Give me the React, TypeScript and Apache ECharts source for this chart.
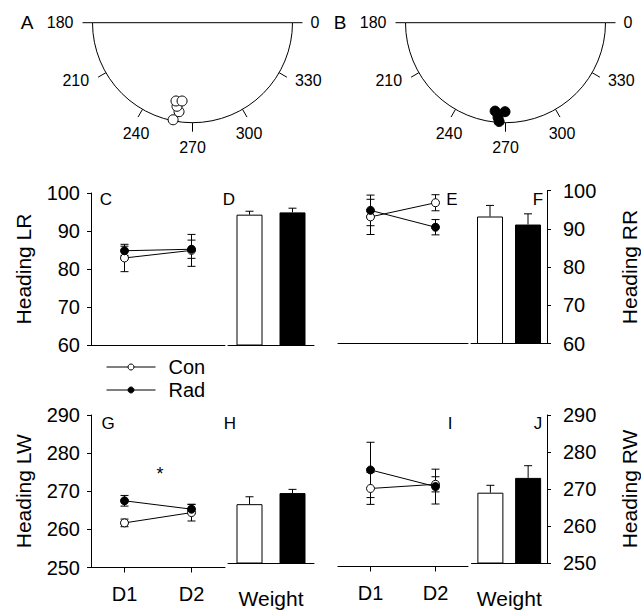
import React, { useEffect, useRef } from "react";
import * as echarts from "echarts";

const FONT = '"Liberation Sans", Arial, Helvetica, sans-serif';
const BLACK = "#000";

// ---------- data ----------
const days = ["D1", "D2"];
const groups = ["Con", "Rad"];

// polar panels A and B: tick angles and individual headings [radius fraction, angle deg]
const polarTickAngles = [180, 210, 240, 270, 300, 330, 0];
const conHeadingsA = [
  [0.99, 258.7],
  [0.9, 261.4],
  [0.85, 259.5],
  [0.8, 258.1],
  [0.79, 262.4],
];
const radHeadingsB = [
  [0.99, 266.3],
  [0.95, 265.5],
  [0.89, 263.3],
  [0.89, 269.7],
];

const headingTicksTop = [60, 70, 80, 90, 100];
const headingTicksBottom = [250, 260, 270, 280, 290];

// C: Heading LR by day
const lrConMean = [82.9, 84.9];
const lrConSem = [3.6, 4.2];
const lrRadMean = [84.8, 85.2];
const lrRadSem = [1.2, 2.4];
// D: Heading LR, weight
const lrWeightMean = [94.3, 94.9];
const lrWeightSem = [0.9, 1.1];
// E: Heading RR by day
const rrConMean = [93.1, 96.8];
const rrConSem = [4.6, 2.1];
const rrRadMean = [94.8, 90.4];
const rrRadSem = [4.0, 2.0];
// F: Heading RR, weight
const rrWeightMean = [93.2, 91.1];
const rrWeightSem = [2.9, 2.8];
// G: Heading LW by day
const lwConMean = [261.7, 264.4];
const lwConSem = [1.0, 2.2];
const lwRadMean = [267.5, 265.3];
const lwRadSem = [1.4, 1.2];
// H: Heading LW, weight
const lwWeightMean = [265.9, 268.9];
const lwWeightSem = [2.0, 1.0];
// I: Heading RW by day
const rwConMean = [270.6, 271.7];
const rwConSem = [4.2, 2.0];
const rwRadMean = [275.5, 271.1];
const rwRadSem = [7.3, 4.6];
// J: Heading RW, weight
const rwWeightMean = [269.0, 273.0];
const rwWeightSem = [2.0, 3.3];

// ---------- helpers ----------
const axisLineStyle = { show: true, onZero: false, lineStyle: { color: BLACK, width: 1 } };
const labelText = { color: BLACK, fontSize: 20, fontFamily: FONT };

function valueAxis(gridIndex: number, ticks: number[], visible: boolean, position?: string, name?: string) {
  const base: any = {
    type: "value",
    gridIndex,
    min: ticks[0],
    max: ticks[ticks.length - 1],
    interval: ticks[1] - ticks[0],
    splitLine: { show: false },
  };
  if (!visible) return { ...base, show: false };
  const left = position === "left";
  return {
    ...base,
    position,
    axisLine: axisLineStyle,
    axisTick: { show: true, length: 4, lineStyle: { color: BLACK, width: 1 } },
    axisLabel: { ...labelText, margin: left ? 11 : 16 },
    name,
    nameLocation: "middle",
    nameRotate: 90,
    nameGap: left ? 57 : 72,
    nameTextStyle: { color: BLACK, fontSize: 21, fontFamily: FONT },
  };
}

function dayAxis(gridIndex: number, showLabels: boolean) {
  return {
    type: "category",
    gridIndex,
    data: days,
    boundaryGap: true,
    axisLine: axisLineStyle,
    axisTick: showLabels
      ? { show: true, alignWithLabel: true, length: 5, lineStyle: { color: BLACK } }
      : { show: false },
    axisLabel: showLabels ? { ...labelText, margin: 16 } : { show: false },
    splitLine: { show: false },
  };
}

function weightAxis(gridIndex: number, showName: boolean) {
  return {
    type: "category",
    gridIndex,
    data: groups,
    boundaryGap: true,
    axisLine: axisLineStyle,
    axisTick: { show: false },
    axisLabel: { show: false },
    splitLine: { show: false },
    name: showName ? "Weight" : "",
    nameLocation: "middle",
    nameGap: 25,
    nameTextStyle: { color: BLACK, fontSize: 21, fontFamily: FONT },
  };
}

function lineSeries(name: string, idx: number, means: number[], filled: boolean) {
  return {
    type: "line",
    name,
    xAxisIndex: idx,
    yAxisIndex: idx,
    data: means,
    symbol: "circle",
    symbolSize: 8,
    showSymbol: true,
    itemStyle: { color: filled ? BLACK : "#fff", borderColor: BLACK, borderWidth: 1, opacity: 1 },
    lineStyle: { color: BLACK, width: 1 },
    z: filled ? 4 : 3,
    silent: true,
  };
}

function errorSeries(name: string, idx: number, means: number[], sems: number[], upOnly: boolean, z: number) {
  return {
    type: "custom",
    name,
    xAxisIndex: idx,
    yAxisIndex: idx,
    data: means.map((m, i) => [i, m, sems[i]]),
    z,
    silent: true,
    renderItem: (_params: any, api: any) => {
      const x = api.value(0);
      const m = api.value(1);
      const e = api.value(2);
      const top = api.coord([x, m + e]);
      const bot = api.coord([x, upOnly ? m : m - e]);
      const hw = 4;
      const st = { stroke: BLACK, lineWidth: 1 };
      const children: any[] = [
        { type: "line", shape: { x1: top[0], y1: top[1], x2: bot[0], y2: bot[1] }, style: st },
        { type: "line", shape: { x1: top[0] - hw, y1: top[1], x2: top[0] + hw, y2: top[1] }, style: st },
      ];
      if (!upOnly) {
        children.push({ type: "line", shape: { x1: bot[0] - hw, y1: bot[1], x2: bot[0] + hw, y2: bot[1] }, style: st });
      }
      return { type: "group", children };
    },
  };
}

function barSeries(name: string, idx: number, values: number[], which: number) {
  return {
    type: "bar",
    name,
    xAxisIndex: idx,
    yAxisIndex: idx,
    barWidth: 26,
    barGap: "-100%",
    data: which === 0 ? [values[0], "-"] : ["-", values[1]],
    itemStyle: { color: which === 0 ? "#fff" : BLACK, borderColor: BLACK, borderWidth: 1 },
    z: 2,
    silent: true,
  };
}

function polarFrameSeries(polarIndex: number) {
  return {
    type: "custom",
    name: "frame" + polarIndex,
    coordinateSystem: "polar",
    polarIndex,
    data: polarTickAngles.map((a) => [1, a]),
    silent: true,
    z: 1,
    renderItem: (params: any, api: any) => {
      const ang = api.value(1);
      const p = api.coord([1, ang]);
      const cs = params.coordSys;
      const ux = (p[0] - cs.cx) / cs.r;
      const uy = (p[1] - cs.cy) / cs.r;
      const tl = Math.abs(uy) < 0.1 ? 10 : 9;
      const q = [p[0] + ux * tl, p[1] + uy * tl];
      const st = { stroke: BLACK, lineWidth: 1 };
      const children: any[] = [];
      if (params.dataIndex === 0) {
        children.push({
          type: "arc",
          shape: { cx: cs.cx, cy: cs.cy, r: cs.r, startAngle: 0, endAngle: Math.PI, clockwise: true },
          style: { stroke: BLACK, fill: "none", lineWidth: 1 },
        });
        children.push({ type: "line", shape: { x1: cs.cx - cs.r, y1: cs.cy, x2: cs.cx + cs.r, y2: cs.cy }, style: st });
      }
      children.push({ type: "line", shape: { x1: p[0], y1: p[1], x2: q[0], y2: q[1] }, style: st });
      let tx: number, ty: number, align: string;
      if (Math.abs(uy) < 0.7) {
        align = ux > 0 ? "left" : "right";
        tx = q[0] + (ux > 0 ? 8 : -9);
        ty = q[1] + uy * 6;
      } else {
        align = "center";
        tx = q[0] + ux * 4;
        ty = q[1] + 16;
      }
      children.push({
        type: "text",
        style: {
          text: String(ang),
          x: tx,
          y: ty,
          align,
          verticalAlign: "middle",
          fontSize: 16,
          fontFamily: FONT,
          fill: BLACK,
        },
      });
      return { type: "group", children };
    },
  };
}

function letter(text: string, x: number, y: number, size = 17) {
  return {
    type: "text",
    x,
    y,
    style: { text, fontSize: size, fontFamily: FONT, fill: BLACK, align: "center", verticalAlign: "middle" },
    silent: true,
  };
}

function buildOption() {
  const grids = [
    { left: 91, top: 193, width: 134, height: 152 }, // C
    { left: 228, top: 193, width: 86, height: 152 }, // D
    { left: 338, top: 190.5, width: 130, height: 153 }, // E
    { left: 471, top: 190.5, width: 86, height: 153 }, // F
    { left: 91, top: 415, width: 134, height: 152.5 }, // G
    { left: 228, top: 415, width: 86, height: 152.5 }, // H
    { left: 338, top: 415, width: 130, height: 151.5 }, // I
    { left: 471.5, top: 415, width: 86.5, height: 151.5 }, // J
  ];

  const hiddenAngle = (polarIndex: number) => ({
    polarIndex,
    type: "value",
    min: 0,
    max: 360,
    startAngle: 0,
    clockwise: false,
    axisLine: { show: false },
    axisTick: { show: false },
    axisLabel: { show: false },
    splitLine: { show: false },
  });
  const hiddenRadius = (polarIndex: number) => ({
    polarIndex,
    type: "value",
    min: 0,
    max: 1,
    axisLine: { show: false },
    axisTick: { show: false },
    axisLabel: { show: false },
    splitLine: { show: false },
  });

  return {
    animation: false,
    backgroundColor: "#fff",
    textStyle: { fontFamily: FONT },
    grid: grids,
    polar: [
      { center: [192.5, 22.7], radius: 100 },
      { center: [505.5, 22.7], radius: 100 },
    ],
    angleAxis: [hiddenAngle(0), hiddenAngle(1)],
    radiusAxis: [hiddenRadius(0), hiddenRadius(1)],
    xAxis: [
      dayAxis(0, false),
      weightAxis(1, false),
      dayAxis(2, false),
      weightAxis(3, false),
      dayAxis(4, true),
      weightAxis(5, true),
      dayAxis(6, true),
      weightAxis(7, true),
    ],
    yAxis: [
      valueAxis(0, headingTicksTop, true, "left", "Heading LR"),
      valueAxis(1, headingTicksTop, false),
      valueAxis(2, headingTicksTop, false),
      valueAxis(3, headingTicksTop, true, "right", "Heading RR"),
      valueAxis(4, headingTicksBottom, true, "left", "Heading LW"),
      valueAxis(5, headingTicksBottom, false),
      valueAxis(6, headingTicksBottom, false),
      valueAxis(7, headingTicksBottom, true, "right", "Heading RW"),
    ],
    legend: {
      data: [
        { name: "Con", itemStyle: { color: "#fff", borderColor: BLACK, borderWidth: 1 } },
        { name: "Rad", itemStyle: { color: BLACK, borderColor: BLACK, borderWidth: 1 } },
      ],
      orient: "vertical",
      left: 101,
      top: 352,
      itemWidth: 49,
      itemHeight: 7.5,
      itemGap: 3,
      selectedMode: false,
      lineStyle: { color: BLACK, width: 1 },
      textStyle: { color: BLACK, fontSize: 20, fontFamily: FONT, padding: [0, 0, 0, 8] },
    },
    series: [
      lineSeries("Con", 0, lrConMean, false),
      lineSeries("Rad", 0, lrRadMean, true),
      errorSeries("Con SEM C", 0, lrConMean, lrConSem, false, 2),
      errorSeries("Rad SEM C", 0, lrRadMean, lrRadSem, false, 2),

      barSeries("Con", 1, lrWeightMean, 0),
      barSeries("Rad", 1, lrWeightMean, 1),
      errorSeries("SEM D", 1, lrWeightMean, lrWeightSem, true, 3),

      lineSeries("Con", 2, rrConMean, false),
      lineSeries("Rad", 2, rrRadMean, true),
      errorSeries("Con SEM E", 2, rrConMean, rrConSem, false, 2),
      errorSeries("Rad SEM E", 2, rrRadMean, rrRadSem, false, 2),

      barSeries("Con", 3, rrWeightMean, 0),
      barSeries("Rad", 3, rrWeightMean, 1),
      errorSeries("SEM F", 3, rrWeightMean, rrWeightSem, true, 3),

      lineSeries("Con", 4, lwConMean, false),
      lineSeries("Rad", 4, lwRadMean, true),
      errorSeries("Con SEM G", 4, lwConMean, lwConSem, false, 2),
      errorSeries("Rad SEM G", 4, lwRadMean, lwRadSem, false, 2),

      barSeries("Con", 5, lwWeightMean, 0),
      barSeries("Rad", 5, lwWeightMean, 1),
      errorSeries("SEM H", 5, lwWeightMean, lwWeightSem, true, 3),

      lineSeries("Con", 6, rwConMean, false),
      lineSeries("Rad", 6, rwRadMean, true),
      errorSeries("Con SEM I", 6, rwConMean, rwConSem, false, 2),
      errorSeries("Rad SEM I", 6, rwRadMean, rwRadSem, false, 2),

      barSeries("Con", 7, rwWeightMean, 0),
      barSeries("Rad", 7, rwWeightMean, 1),
      errorSeries("SEM J", 7, rwWeightMean, rwWeightSem, true, 3),

      polarFrameSeries(0),
      polarFrameSeries(1),
      {
        type: "scatter",
        name: "Con headings",
        coordinateSystem: "polar",
        polarIndex: 0,
        data: conHeadingsA,
        symbolSize: 10,
        itemStyle: { color: "#fff", borderColor: BLACK, borderWidth: 1, opacity: 1 },
        z: 5,
        silent: true,
      },
      {
        type: "scatter",
        name: "Rad headings",
        coordinateSystem: "polar",
        polarIndex: 1,
        data: radHeadingsB,
        symbolSize: 10,
        itemStyle: { color: BLACK, borderColor: BLACK, borderWidth: 1, opacity: 1 },
        z: 5,
        silent: true,
      },
    ],
    graphic: [
      letter("A", 27, 22, 19),
      letter("B", 340, 22, 19),
      letter("C", 106, 199),
      letter("D", 229, 199),
      letter("E", 452, 199),
      letter("F", 538, 199),
      letter("G", 108, 423),
      letter("H", 230, 423),
      letter("I", 450, 423),
      letter("J", 538, 423),
      letter("*", 160, 474, 18),
    ],
  };
}

export default function App() {
  const ref = useRef<HTMLDivElement>(null);
  useEffect(() => {
    document.body.style.margin = "0";
    const chart = echarts.init(ref.current as HTMLDivElement, undefined, { renderer: "svg" });
    chart.setOption(buildOption() as any);
    return () => chart.dispose();
  }, []);
  return <div ref={ref} style={{ width: 641, height: 610, background: "#fff" }} />;
}
